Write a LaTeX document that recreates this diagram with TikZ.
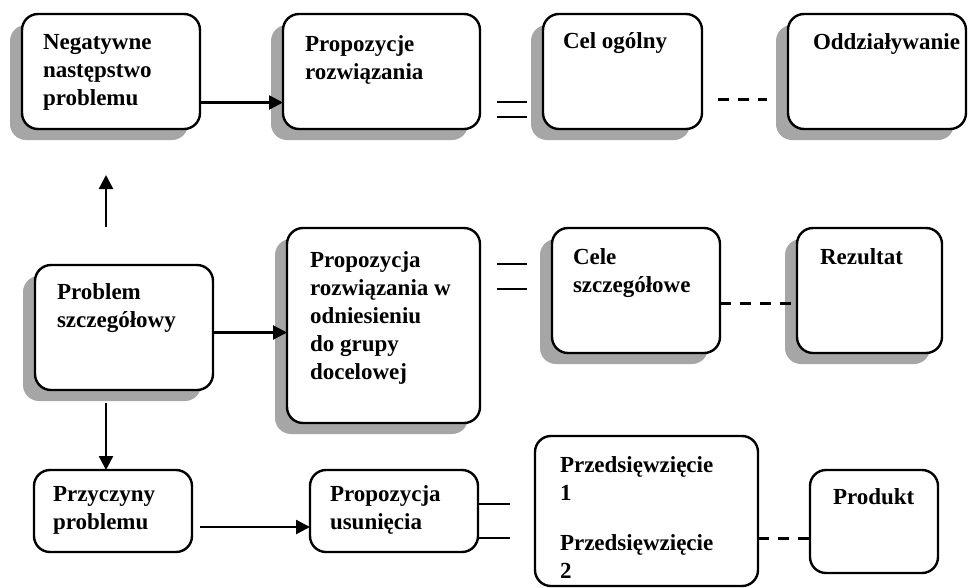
\documentclass[tikz,border=0pt]{standalone}
\usepackage{fontspec}
\setmainfont{Liberation Serif}
\usetikzlibrary{arrows.meta,shadows}
\tikzset{
  blok/.style={draw, line width=2.4pt, rounded corners=16pt, fill=white,
    inner sep=0pt, outer sep=0pt, anchor=north west,
    font=\fontsize{23}{28}\selectfont\bfseries},
  cien/.style={drop shadow={shadow xshift=-12pt, shadow yshift=-11pt,
    fill=black!35, opacity=1}},
  strz/.style={line width=2.4pt, -{Triangle[length=14pt,width=14pt]}},
  kreska/.style={line width=2pt},
  przer/.style={line width=3pt, dash pattern=on 11pt off 9pt},
}
% tekst w bloku: szerokosc, wysokosc, margines lewy, margines gorny, tresc
\newcommand{\tresc}[5]{\parbox[c][#2pt][t]{#1pt}{\raggedright\leftskip=#3pt\relax\vspace*{#4pt}#5}}
\begin{document}
\begin{tikzpicture}[x=1pt,y=-1pt]
    \useasboundingbox (0,0) rectangle (968,587);
    % gorny rzad
    \node[blok,cien] (neg) at (22,14) {\tresc{178}{115}{21}{20}{Negatywne\\następstwo\\problemu}};
    \node[blok,cien] (prop) at (283,14) {\tresc{197}{115}{22}{22}{Propozycje\\rozwiązania}};
    \node[blok,cien] (cel) at (543,14) {\tresc{159}{115}{20}{19}{Cel ogólny}};
    \node[blok,cien] (odd) at (788,14) {\tresc{178}{115}{25}{20}{Oddziaływanie}};
    % srodkowy rzad
    \node[blok,cien] (prob) at (35,265) {\tresc{178}{125}{22}{19}{Problem\\szczegółowy}};
    \node[blok,cien] (prow) at (287,228) {\tresc{193}{195}{23}{24}{Propozycja\\rozwiązania w\\odniesieniu\\do grupy\\docelowej}};
    \node[blok,cien] (cele) at (552,228) {\tresc{168}{125}{21}{21}{Cele\\szczegółowe}};
    \node[blok,cien] (rez) at (797,228) {\tresc{145}{125}{23}{21}{Rezultat}};
    % dolny rzad
    \node[blok] (prz) at (34,470) {\tresc{158}{82}{19}{16}{Przyczyny\\problemu}};
    \node[blok] (usun) at (310,470) {\tresc{168}{82}{20}{16}{Propozycja\\usunięcia}};
    \node[blok] (przed) at (535,436) {\tresc{223}{150}{25}{21}{Przedsięwzięcie\\1\\[22pt]Przedsięwzięcie\\2}};
    \node[blok] (prod) at (810,470) {\tresc{128}{103}{23}{19}{Produkt}};
    % polaczenia
    \draw[strz] ([yshift=-31pt]neg.east) -- ([yshift=-31pt]prop.west);
    \draw[kreska, shorten <=17pt, shorten >=16pt] ([yshift=-30pt]prop.east) -- ([yshift=-30pt]cel.west);
    \draw[kreska, shorten <=17pt, shorten >=16pt] ([yshift=-45pt]prop.east) -- ([yshift=-45pt]cel.west);
    \draw[przer, shorten <=16pt, shorten >=21pt] ([yshift=-28pt]cel.east) -- ([yshift=-28pt]odd.west);
    \draw[strz, shorten <=38pt, shorten >=46pt] ([xshift=71pt]prob.north west) -- ([xshift=84pt]neg.south west);
    \draw[strz] ([yshift=-5pt]prob.east) -- ([yshift=-5pt]prob.east -| prow.west);
    \draw[kreska, shorten <=17pt, shorten >=25pt] ([yshift=62pt]prow.east) -- ([yshift=62pt]prow.east -| cele.west);
    \draw[kreska, shorten <=17pt, shorten >=25pt] ([yshift=37pt]prow.east) -- ([yshift=37pt]prow.east -| cele.west);
    \draw[przer] ([yshift=-13pt]cele.east) -- ([yshift=-13pt]rez.west);
    \draw[strz, shorten <=13pt] ([xshift=71pt]prob.south west) -- ([xshift=72pt]prz.north west);
    \draw[strz, shorten <=8pt] ([yshift=-16pt]prz.east) -- ([yshift=-16pt]usun.west);
    \draw[kreska, shorten >=25pt] ([yshift=7pt]usun.east) -- ([yshift=7pt]usun.east -| przed.west);
    \draw[kreska, shorten >=25pt] ([yshift=-27pt]usun.east) -- ([yshift=-27pt]usun.east -| przed.west);
    \draw[przer] ([yshift=-27pt]przed.east) -- ([yshift=-27pt]przed.east -| prod.west);
\end{tikzpicture}
\end{document}
